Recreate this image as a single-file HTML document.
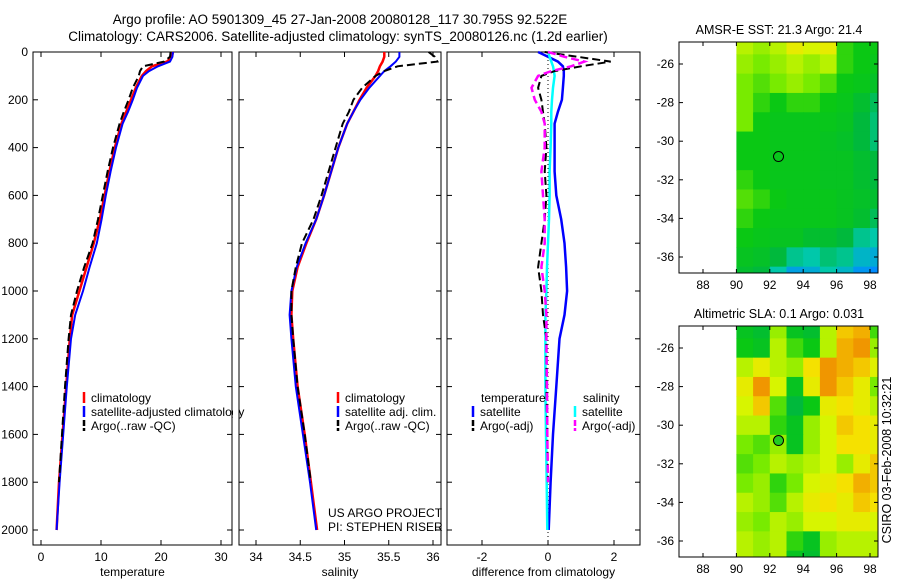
<!DOCTYPE html>
<html><head><meta charset="utf-8"><style>
body{margin:0;background:#fff}
svg{display:block;font-family:"Liberation Sans",sans-serif}
</style></head><body>
<svg id="fig" width="900" height="580" viewBox="0 0 900 580">
<text x="340" y="24" font-size="13.5" text-anchor="middle">Argo profile: AO 5901309_45 27-Jan-2008 20080128_117 30.795S 92.522E</text>
<text x="338" y="41" font-size="13.5" text-anchor="middle">Climatology: CARS2006. Satellite-adjusted climatology: synTS_20080126.nc (1.2d earlier)</text>
<text x="891" y="460" font-size="12.5" text-anchor="middle" transform="rotate(-90 891 460)">CSIRO 03-Feb-2008 10:32:21</text>
</svg>
<script>
// ---- data ----
const depths = [0,20,40,60,80,100,150,200,250,300,400,500,600,700,800,900,1000,1100,1200,1400,1600,1800,2000];
const tempClim = [22,21.8,21,18.5,17.5,16.8,15.8,15,14.2,13.4,12.3,11.4,10.6,9.8,8.8,7.6,6.4,5.2,4.8,4.2,3.6,3.0,2.6];
const tempSat = [22,21.9,21.5,19.5,18,17,16,15.3,14.5,13.6,12.5,11.6,10.8,10.1,9.3,8.1,7.0,5.7,5.0,4.3,3.7,3.1,2.6];
const tempArgo = [21.6,21.5,20.5,17,16.5,16.3,15.3,14.6,13.8,13.1,12.0,11.1,10.3,9.5,8.6,7.2,6.0,5.0,4.6,4.0,3.5,3.0];
const salClim = [35.45,35.45,35.43,35.4,35.38,35.35,35.25,35.17,35.1,35.03,34.93,34.85,34.77,34.68,34.57,34.47,34.41,34.40,34.42,34.47,34.55,34.62,34.69];
const salSat = [35.62,35.62,35.58,35.52,35.45,35.4,35.28,35.18,35.1,35.03,34.93,34.85,34.77,34.68,34.56,34.46,34.40,34.38,34.40,34.45,34.53,34.61,34.68];
const salArgo = [35.95,36.02,36.05,35.6,35.45,35.35,35.2,35.1,35.05,34.98,34.9,34.82,34.74,34.65,34.52,34.45,34.40,34.40,34.42,34.47,34.55,34.62];
const tempSatDiff = [-0.3,0,0.3,0.45,0.48,0.48,0.45,0.42,0.3,0.2,0.2,0.2,0.25,0.4,0.5,0.55,0.58,0.5,0.35,0.25,0.15,0.08,0.02];
const salSatDiff = [0.0,0.05,0.1,0.15,0.18,0.2,0.15,0.12,0.1,0.1,0.08,0.05,0.05,0.03,0.0,-0.03,-0.05,-0.08,-0.08,-0.08,-0.06,-0.04,-0.02];
const tempArgoDiff = [-0.1,0.9,1.9,1.0,0.2,-0.2,-0.3,-0.2,-0.15,-0.1,-0.05,-0.1,-0.05,-0.1,-0.2,-0.3,-0.2,-0.15,-0.05,-0.05,-0.02,0];
const salArgoDiff = [0,0.5,1.1,0.7,0.1,-0.3,-0.5,-0.4,-0.2,-0.1,-0.1,-0.2,-0.15,-0.1,-0.1,-0.2,-0.1,-0.05,-0.05,-0.03,-0.02,0];
const depthTicks = [0,200,400,600,800,1000,1200,1400,1600,1800,2000];
const tempTicks = [0,10,20,30];
const salTicks = [34,34.5,35,35.5,36];
const diffTicks = [-2,0,2];
const mapLons = [88,90,92,94,96,98];
const mapLats = [-26,-28,-30,-32,-34,-36];
const gridLon0 = 90, gridLat0 = -24.5;
const sstGrid = [
[.66,.64,.66,.70,.68,.70,.58,.56,.56],
[.64,.62,.64,.66,.64,.66,.58,.56,.55],
[.62,.60,.62,.64,.62,.60,.56,.55,.53],
[.62,.58,.56,.58,.58,.56,.55,.52,.48],
[.62,.56,.55,.55,.55,.55,.54,.50,.46],
[.56,.56,.55,.55,.55,.54,.53,.50,.46],
[.56,.56,.55,.55,.55,.54,.54,.52,.50],
[.58,.56,.55,.55,.55,.54,.54,.52,.50],
[.60,.58,.56,.55,.55,.55,.54,.53,.52],
[.58,.56,.55,.55,.55,.55,.54,.52,.48],
[.56,.55,.54,.54,.52,.52,.50,.44,.42],
[.54,.53,.50,.44,.42,.46,.44,.38,.36],
[.52,.50,.42,.34,.36,.42,.38,.32,.30]];
const slaGrid = [
[.50,.48,.60,.50,.48,.62,.70,.72,.55],
[.52,.50,.62,.55,.52,.62,.72,.74,.60],
[.62,.66,.62,.60,.68,.74,.72,.70,.65],
[.66,.76,.64,.50,.66,.76,.70,.66,.58],
[.64,.70,.56,.46,.52,.66,.68,.66,.62],
[.62,.62,.54,.50,.60,.64,.70,.68,.66],
[.58,.56,.60,.50,.60,.64,.68,.68,.66],
[.56,.58,.62,.60,.62,.64,.60,.66,.70],
[.58,.60,.54,.58,.64,.66,.68,.72,.70],
[.62,.60,.56,.62,.66,.68,.66,.70,.68],
[.60,.58,.62,.60,.64,.64,.66,.66,.64],
[.62,.60,.62,.54,.50,.60,.62,.62,.62],
[.62,.60,.62,.50,.48,.60,.62,.62,.62]];
const argoLon = 92.522, argoLat = -30.795;

const svg = document.getElementById('fig');
const NS = 'http://www.w3.org/2000/svg';
function mk(tag, attrs, parent){const e=document.createElementNS(NS,tag);for(const k in attrs)e.setAttribute(k,attrs[k]);(parent||svg).appendChild(e);return e;}
function txt(x,y,s,size,anchor){const t=mk('text',{x:x,y:y,'font-size':size||12,'text-anchor':anchor||'middle'});t.textContent=s;return t;}

const yD = d => 52 + d*(478/2000);
const panels = [
 {name:'temperature',x0:33,x1:232,sx:v=>41+v*6,ticks:tempTicks,label:'temperature'},
 {name:'salinity',x0:239,x1:441,sx:v=>256+(v-34)*88.5,ticks:salTicks,label:'salinity'},
 {name:'difference',x0:447,x1:640,sx:v=>548+v*33,ticks:diffTicks,label:'difference from climatology'}
];
panels.forEach((p,i)=>{
  const g=mk('g',{});
  
  
  const r=mk('rect',{x:p.x0,y:52,width:p.x1-p.x0,height:493,fill:'none',stroke:'#000','stroke-width':1},g);
  
  
  p.ticks.forEach(t=>{const x=p.sx(t);mk('line',{x1:x,x2:x,y1:545,y2:540,stroke:'#000'},g);mk('line',{x1:x,x2:x,y1:52,y2:57,stroke:'#000'},g);
    const l=txt(x,561,String(t),12);g.appendChild(l);});
  depthTicks.forEach(d=>{const y=yD(d);mk('line',{x1:p.x0,x2:p.x0+5,y1:y,y2:y,stroke:'#000'},g);mk('line',{x1:p.x1,x2:p.x1-5,y1:y,y2:y,stroke:'#000'},g);
    if(i===0){const l=txt(28,y+4,String(d),12,'end');g.appendChild(l);}});
  const xl=txt((p.x0+p.x1)/2,576,p.label,12);
  
  
  g.appendChild(xl);
});
function line(vals,sx,color,w,dash,name){
  const pts=vals.map((v,k)=>sx(v).toFixed(1)+','+yD(depths[k]).toFixed(1)).join(' ');
  const a={points:pts,fill:'none',stroke:color,'stroke-width':w};
  if(dash)a['stroke-dasharray']=dash;
  const e=mk('polyline',a);
  
  
}
const P=panels;
line(tempClim,P[0].sx,'#f00',2.5,null,'temp-climatology-line');
line(tempSat,P[0].sx,'#00f',2,null,'temp-satellite-line');
line(tempArgo,P[0].sx,'#000',2,'8,4','temp-argo-line');
line(salClim,P[1].sx,'#f00',2.5,null,'sal-climatology-line');
line(salSat,P[1].sx,'#00f',2,null,'sal-satellite-line');
line(salArgo,P[1].sx,'#000',2,'8,4','sal-argo-line');
const z=mk('line',{x1:548,x2:548,y1:52,y2:545,stroke:'#000','stroke-dasharray':'1,3'});


line(tempSatDiff,P[2].sx,'#00f',2.5,null,'temp-satellite-diff-line');
line(salSatDiff,P[2].sx,'#0ff',2.5,null,'sal-satellite-diff-line');
line(tempArgoDiff,P[2].sx,'#000',2,'8,4','temp-argo-diff-line');
line(salArgoDiff,P[2].sx,'#f0f',2.5,'8,4','sal-argo-diff-line');

function legItem(x,y,color,dash,label,name){
  const a={x1:x,x2:x,y1:y-10,y2:y+1,stroke:color,'stroke-width':2.5};
  if(dash)a['stroke-dasharray']=dash;
  mk('line',a);
  const t=txt(x+7,y,label,12,'start');
  
  
}
legItem(84,402,'#f00',null,'climatology','legend-entry-climatology');
legItem(84,416,'#00f',null,'satellite-adjusted climatology','legend-entry-satellite');
legItem(84,430,'#000','6,2','Argo(..raw -QC)','legend-entry-argo');
mk('rect',{x:233,y:395,width:5,height:25,fill:'#fff'});
legItem(338,402,'#f00',null,'climatology','legend-entry-climatology-2');
legItem(338,416,'#00f',null,'satellite adj. clim.','legend-entry-satellite-2');
legItem(338,430,'#000','6,2','Argo(..raw -QC)','legend-entry-argo-2');
txt(481,402,'temperature',12,'start');
txt(583,402,'salinity',12,'start');
legItem(473,416,'#00f',null,'satellite','legend-temp-satellite');
legItem(473,430,'#000','6,2','Argo(-adj)','legend-temp-argo');
legItem(575,416,'#0ff',null,'satellite','legend-sal-satellite');
legItem(575,430,'#f0f','6,2','Argo(-adj)','legend-sal-argo');
txt(328,517,'US ARGO PROJECT',12,'start');
txt(328,531,'PI: STEPHEN RISER',12,'start');

const stops=[[0.3,[0,140,255]],[0.42,[0,200,170]],[0.5,[0,185,60]],[0.56,[10,200,20]],[0.62,[120,235,0]],[0.68,[215,245,0]],[0.72,[245,225,0]],[0.78,[240,150,0]]];
function cmap(v){if(v<=stops[0][0])return stops[0][1];for(let i=1;i<stops.length;i++){if(v<=stops[i][0]){const a=stops[i-1],b=stops[i],t=(v-a[0])/(b[0]-a[0]);return a[1].map((c,k)=>Math.round(c+(b[1][k]-c)*t));}}return stops[stops.length-1][1];}
function drawMap(top,grid,title,name,filled,shift){
  const bot=top+231, lx=lon=>703+(lon-88)*16.7, ly=lat=>top+22+(-26-lat)*19.3;
  const g=mk('g',{});
  
  
  const cid='clip'+top;
  const cp=mk('clipPath',{id:cid},g);mk('rect',{x:679,y:top,width:199,height:231},cp);
  const cg=mk('g',{'clip-path':'url(#'+cid+')'},g);
  grid.forEach((row,r)=>row.forEach((v,c)=>{
    const x=lx(gridLon0+c),y=ly(gridLat0-r);
    const col=cmap(v+shift);
    mk('rect',{x:x,y:y,width:17.2,height:19.8,fill:'rgb('+col.join(',')+')'},cg);
  }));
  mk('rect',{x:679,y:top,width:199,height:231,fill:'none',stroke:'#000'},g);
  mapLons.forEach(l=>{const x=lx(l);mk('line',{x1:x,x2:x,y1:bot,y2:bot-4,stroke:'#000'},g);mk('line',{x1:x,x2:x,y1:top,y2:top+4,stroke:'#000'},g);g.appendChild(txt(x,bot+16,String(l),12));});
  mapLats.forEach(l=>{const y=ly(l);mk('line',{x1:679,x2:683,y1:y,y2:y,stroke:'#000'},g);mk('line',{x1:878,x2:874,y1:y,y2:y,stroke:'#000'},g);g.appendChild(txt(674,y+4,String(l),12,'end'));});
  const t=txt(779,top-8,title,12.5);
  
  
  const m=mk('circle',{cx:lx(argoLon),cy:ly(argoLat),r:5,fill:filled?'#22cc22':'none',stroke:'#000'},g);
  
  
}
drawMap(42,sstGrid,'AMSR-E SST: 21.3 Argo: 21.4','sst-map',false,0);
drawMap(326,slaGrid,'Altimetric SLA: 0.1 Argo: 0.031','sla-map',true,0.04);
</script>
</body></html>
